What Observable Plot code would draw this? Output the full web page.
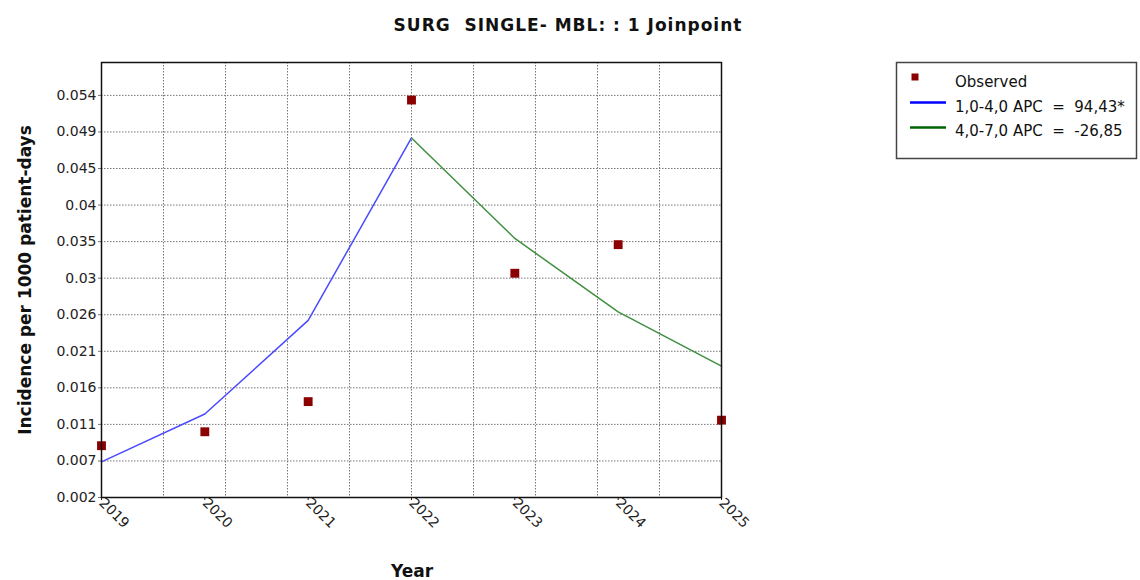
<!DOCTYPE html>
<html>
<head>
<meta charset="utf-8">
<script src="https://cdn.jsdelivr.net/npm/d3@7"></script>
<script src="https://cdn.jsdelivr.net/npm/@observablehq/plot@0.6"></script>
<style>
  html, body { margin: 0; padding: 0; background: #fff; }
  #chart svg { display: block; }
</style>
</head>
<body>
<div id="chart"></div>
<script>
// ---- data ----
const years = [2019, 2020, 2021, 2022, 2023, 2024, 2025];
const observed = [0.0087, 0.0105, 0.0144, 0.0534, 0.0310, 0.0347, 0.0120];
const seg1Years = [2019, 2020, 2021, 2022];
const seg1Values = [0.0066, 0.0128, 0.0249, 0.0485];
const seg2Years = [2022, 2023, 2024, 2025];
const seg2Values = [0.0485, 0.0355, 0.0260, 0.0190];
const yTickLabels = ["0.002","0.007","0.011","0.016","0.021","0.026","0.03","0.035","0.04","0.045","0.049","0.054"];
const titleText = "SURG\u00a0\u00a0SINGLE- MBL: : 1 Joinpoint";
const legendLabels = ["Observed", "1,0-4,0 APC\u00a0\u00a0=\u00a0\u00a094,43*", "4,0-7,0 APC\u00a0\u00a0=\u00a0\u00a0-26,85"];

// ---- derived tables ----
const obsData = years.map((y, i) => ({year: y, value: observed[i]}));
const seg1 = seg1Years.map((y, i) => ({year: y, value: seg1Values[i]}));
const seg2 = seg2Years.map((y, i) => ({year: y, value: seg2Values[i]}));
const yMin = 0.002, yMaxTick = 0.054;
const yTicks = yTickLabels.map((_, i) => yMin + i * (yMaxTick - yMin) / (yTickLabels.length - 1));
const yStep = yTicks[1] - yTicks[0];
const xGrid = d3.range(1, 10).map(k => years[0] + k * (years[years.length - 1] - years[0]) / 10);

const font = "'DejaVu Sans', 'Noto Sans', sans-serif";

const plot = Plot.plot({
  width: 1140,
  height: 580,
  marginLeft: 101,
  marginRight: 419,
  marginTop: 62,
  marginBottom: 83,
  style: {fontFamily: font, fontSize: "14px", color: "#222", background: "#fff"},
  x: {domain: [years[0], years[years.length - 1]]},
  y: {domain: [yMin, yMaxTick + 0.9 * yStep]},
  marks: [
    Plot.gridX(xGrid, {stroke: "#777", strokeOpacity: 1, strokeDasharray: "1.5,1.5", strokeWidth: 1}),
    Plot.gridY(yTicks, {stroke: "#777", strokeOpacity: 1, strokeDasharray: "1.5,1.5", strokeWidth: 1}),
    Plot.axisY(yTicks, {
      tickFormat: (d, i) => yTickLabels[i],
      tickSize: 3, tickPadding: 2, label: null, fontSize: 14, stroke: "#777"
    }),
    Plot.axisX(years, {
      tickFormat: d => String(d),
      tickSize: 3, tickPadding: 0, tickRotate: 45, label: null, fontSize: 14
    }),
    Plot.line(seg1, {x: "year", y: "value", stroke: "#4a4aff", strokeWidth: 1.5}),
    Plot.line(seg2, {x: "year", y: "value", stroke: "#3f8f3f", strokeWidth: 1.5}),
    Plot.dot(obsData, {x: "year", y: "value", symbol: "square", r: 5, fill: "#8b0000", stroke: null}),
    Plot.frame({stroke: "#111", strokeWidth: 1.5})
  ]
});

document.getElementById("chart").appendChild(plot);

// ---- title, axis labels, legend drawn into the same SVG ----
const svg = d3.select(plot);
svg.append("text")
  .attr("x", 568).attr("y", 31)
  .attr("text-anchor", "middle")
  .style("font-family", font).style("font-weight", "bold").style("font-size", "17px")
  .style("letter-spacing", "1px").style("fill", "#111")
  .text(titleText);
svg.append("text")
  .attr("transform", "translate(31,280) rotate(-90)")
  .attr("text-anchor", "middle")
  .style("font-family", font).style("font-weight", "bold").style("font-size", "17px").style("fill", "#111")
  .text("Incidence per 1000 patient-days");
svg.append("text")
  .attr("x", 412).attr("y", 577)
  .attr("text-anchor", "middle")
  .style("font-family", font).style("font-weight", "bold").style("font-size", "17px").style("fill", "#111")
  .text("Year");

const lg = svg.append("g");
lg.append("rect").attr("x", 896.5).attr("y", 62.5).attr("width", 240).attr("height", 96)
  .attr("fill", "#fff").attr("stroke", "#444").attr("stroke-width", 1.5);
lg.append("rect").attr("x", 911.5).attr("y", 73.5).attr("width", 7).attr("height", 7).attr("fill", "#8b0000");
lg.append("line").attr("x1", 910).attr("x2", 946).attr("y1", 102.5).attr("y2", 102.5).attr("stroke", "#0000ff").attr("stroke-width", 2.5);
lg.append("line").attr("x1", 910).attr("x2", 946).attr("y1", 127.5).attr("y2", 127.5).attr("stroke", "#006400").attr("stroke-width", 2.5);
legendLabels.forEach((t, i) => {
  lg.append("text").attr("x", 955).attr("y", 87 + i * 24.5)
    .attr("text-anchor", "start")
    .style("font-family", font).style("font-size", "15px").style("fill", "#111")
    .text(t);
});
</script>
</body>
</html>
